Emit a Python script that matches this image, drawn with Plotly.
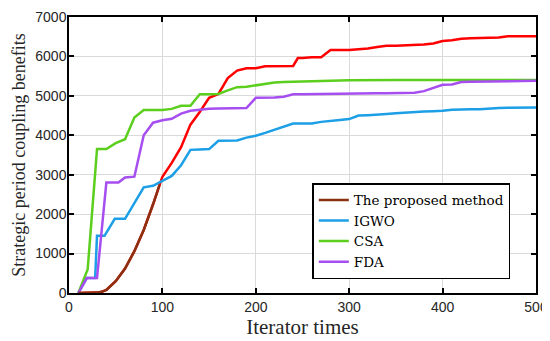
import plotly.graph_objects as go

# ---- data ----
proposed_x = [10, 20, 30, 35, 40, 50, 60, 70, 80, 90, 97, 100, 110, 120, 130, 140, 150, 160, 170, 180,
              190, 200, 210, 220, 230, 240, 245, 250, 260, 270, 280, 290, 300, 310, 320, 330, 340, 350,
              360, 370, 380, 390, 400, 410, 420, 430, 440, 450, 460, 470, 480, 490, 500]
proposed_y = [0, 0, 10, 30, 80, 300, 620, 1060, 1600, 2250, 2750, 2950, 3300, 3700, 4270, 4590, 4950, 5050,
              5450, 5640, 5700, 5700, 5750, 5750, 5750, 5760, 5960, 5960, 5980, 5980, 6160, 6160, 6160,
              6180, 6200, 6240, 6270, 6270, 6280, 6290, 6300, 6330, 6390, 6410, 6450, 6460, 6470, 6470,
              6480, 6510, 6510, 6510, 6510]
proposed_early_n = 11  # first part drawn in brown

igwo_x = [10, 19, 28, 30, 38, 49, 60, 70, 80, 90, 100, 110, 120, 130, 140, 150, 160, 170, 180, 190, 200,
          210, 220, 230, 240, 250, 260, 270, 280, 290, 300, 310, 320, 330, 340, 350, 360, 370, 380, 390,
          400, 410, 420, 430, 440, 450, 460, 470, 480, 490, 500]
igwo_y = [0, 380, 380, 1450, 1450, 1880, 1880, 2280, 2680, 2720, 2850, 2970, 3240, 3630, 3640, 3650, 3860,
          3860, 3870, 3940, 3990, 4060, 4140, 4210, 4300, 4300, 4300, 4340, 4370, 4390, 4410, 4500, 4510,
          4520, 4540, 4560, 4580, 4600, 4605, 4610, 4620, 4650, 4660, 4660, 4660, 4680, 4695, 4700, 4700,
          4700, 4705]

csa_x = [10, 20, 30, 40, 50, 60, 70, 80, 90, 100, 110, 120, 130, 140, 150, 160, 170, 180, 190, 200, 210,
         220, 230, 240, 250, 260, 270, 280, 290, 300, 350, 400, 450, 500]
csa_y = [0, 600, 3650, 3650, 3800, 3900, 4450, 4640, 4640, 4640, 4670, 4750, 4750, 5040, 5040, 5050, 5140,
         5220, 5230, 5270, 5310, 5340, 5350, 5360, 5370, 5375, 5380, 5385, 5390, 5395, 5400, 5400, 5400, 5400]

fda_x = [10, 19, 30, 40, 53, 60, 70, 80, 90, 100, 110, 120, 130, 140, 150, 160, 170, 180, 190, 200, 210,
         220, 230, 240, 250, 260, 270, 280, 290, 300, 310, 320, 330, 340, 350, 360, 370, 380, 390, 400,
         410, 420, 430, 440, 450, 460, 470, 480, 490, 500]
fda_y = [0, 380, 380, 2800, 2800, 2930, 2950, 4000, 4320, 4380, 4420, 4550, 4620, 4650, 4670, 4680, 4680,
         4685, 4690, 4950, 4950, 4960, 4980, 5040, 5040, 5045, 5050, 5050, 5055, 5060, 5060, 5065, 5065,
         5065, 5065, 5070, 5080, 5120, 5200, 5280, 5290, 5350, 5360, 5365, 5365, 5370, 5370, 5370, 5375, 5380]

x_ticks = [0, 100, 200, 300, 400, 500]
y_ticks = [0, 1000, 2000, 3000, 4000, 5000, 6000, 7000]

RED = "#FF0000"
BROWN = "#8B3010"
BLUE = "#1C9FE6"
GREEN = "#5CCF1E"
PURPLE = "#A64EEF"
LW = 2.5
SERIF = "Liberation Serif, Times New Roman, serif"

fig = go.Figure()
fig.add_trace(go.Scatter(x=proposed_x, y=proposed_y, mode="lines", line=dict(color=RED, width=LW),
                         showlegend=False, name="The proposed method"))
fig.add_trace(go.Scatter(x=igwo_x, y=igwo_y, mode="lines", line=dict(color=BLUE, width=LW),
                         name="IGWO", legendrank=2))
fig.add_trace(go.Scatter(x=csa_x, y=csa_y, mode="lines", line=dict(color=GREEN, width=LW),
                         name="CSA", legendrank=3))
fig.add_trace(go.Scatter(x=fda_x, y=fda_y, mode="lines", line=dict(color=PURPLE, width=LW),
                         name="FDA", legendrank=4))
fig.add_trace(go.Scatter(x=proposed_x[:proposed_early_n], y=proposed_y[:proposed_early_n], mode="lines",
                         line=dict(color=BROWN, width=LW), name="The proposed method", legendrank=1))

axis_common = dict(
    showline=True, linecolor="black", linewidth=1.5, mirror="ticks",
    ticks="inside", ticklen=5, tickwidth=1.5, tickcolor="black",
    showgrid=True, gridcolor="#DADADA", gridwidth=1, zeroline=False, automargin=False,
    tickfont=dict(family="Liberation Sans, Arial", size=14, color="#262626"),
)

# page body adds an 8px offset, so the figure is 542x333 and margins are shifted accordingly
fig.update_layout(
    width=542, height=333,
    margin=dict(l=61, r=14, t=9, b=48, autoexpand=False),
    paper_bgcolor="white", plot_bgcolor="white",
    xaxis=dict(range=[0, 500], tickvals=x_ticks,
               title=dict(text="Iterator times", standoff=6,
                          font=dict(family=SERIF, size=21, color="#262626")),
               **axis_common),
    yaxis=dict(range=[0, 7000], tickvals=y_ticks, ticklabelstandoff=-2,
               title=dict(text="Strategic period coupling benefits", standoff=5,
                          font=dict(family=SERIF, size=18, color="#262626")),
               **axis_common),
    legend=dict(x=0.521, y=0.05, xanchor="left", yanchor="bottom",
                bgcolor="white", bordercolor="black", borderwidth=1.5,
                font=dict(family="DejaVu Serif, serif", size=13.5, color="black"),
                tracegroupgap=0, itemwidth=30),
    showlegend=True,
)

fig.write_html("out.html")
